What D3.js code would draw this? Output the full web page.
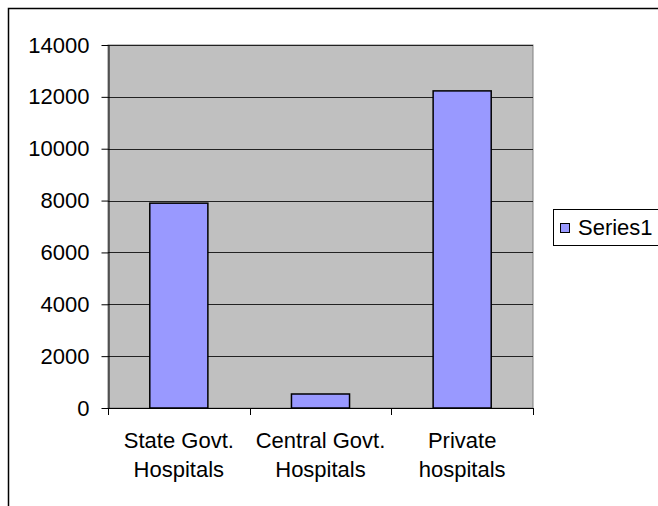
<!DOCTYPE html>
<html>
<head>
<meta charset="utf-8">
<script src="https://cdn.jsdelivr.net/npm/d3@7"></script>
<style>
  body { margin: 0; background: #fff; }
  svg { display: block; font-family: "Liberation Sans", Arial, sans-serif; }
</style>
</head>
<body>
<svg width="658" height="506"></svg>
<script>
const width = 658, height = 506;
const svg = d3.select("svg");

// chart data
const categories = [["State Govt.", "Hospitals"], ["Central Govt.", "Hospitals"], ["Private", "hospitals"]];
const values = [7900, 540, 12230];
const yTicks = [0, 2000, 4000, 6000, 8000, 10000, 12000, 14000];
const seriesName = "Series1";

// plot area
const plotLeft = 108, plotRight = 533, plotTop = 45, plotBottom = 408;

// outer chart frame (cut off at right and bottom in the original)
svg.append("rect")
    .attr("x", 8.5).attr("y", 8.5)
    .attr("width", width + 20).attr("height", height + 20)
    .attr("fill", "#fff")
    .attr("stroke", "#000")
    .attr("stroke-width", 1.5);

const xScale = d3.scaleBand()
    .domain(d3.range(categories.length))
    .range([plotLeft, plotRight])
    .paddingInner(0.59)
    .paddingOuter(0.295);

const yScale = d3.scaleLinear()
    .domain([0, 14000])
    .range([plotBottom, plotTop]);

// grey plot background
svg.append("rect")
    .attr("x", plotLeft).attr("y", plotTop)
    .attr("width", plotRight - plotLeft).attr("height", plotBottom - plotTop)
    .attr("fill", "#c0c0c0")
    .attr("stroke", "#808080")
    .attr("stroke-width", 1);

// horizontal gridlines
svg.selectAll(".grid")
    .data(yTicks.filter(d => d > 0))
    .enter().append("line")
    .attr("class", "grid")
    .attr("x1", plotLeft).attr("x2", plotRight)
    .attr("y1", d => Math.round(yScale(d)) + 0.5)
    .attr("y2", d => Math.round(yScale(d)) + 0.5)
    .attr("stroke", "#222")
    .attr("stroke-width", 1);

// bars
svg.selectAll(".bar")
    .data(values)
    .enter().append("rect")
    .attr("class", "bar")
    .attr("x", (d, i) => xScale(i))
    .attr("y", d => yScale(d))
    .attr("width", xScale.bandwidth())
    .attr("height", d => plotBottom - yScale(d))
    .attr("fill", "#9999ff")
    .attr("stroke", "#000")
    .attr("stroke-width", 1.5);

// y axis
const yAxis = svg.append("g")
    .attr("transform", `translate(${plotLeft + 0.5},0)`)
    .call(d3.axisLeft(yScale).tickValues(yTicks).tickSize(7).tickSizeOuter(0).tickPadding(12).tickFormat(d3.format("d")));
yAxis.select(".domain").attr("stroke", "#000");
yAxis.selectAll(".tick line").attr("stroke", "#000");
yAxis.selectAll(".tick text")
    .style("font-size", "22px")
    .style("font-family", "Liberation Sans, Arial, sans-serif")
    .attr("fill", "#000");

// x axis with boundary ticks
const boundaries = d3.range(categories.length + 1).map(i => plotLeft + i * (plotRight - plotLeft) / categories.length);
svg.append("line")
    .attr("x1", plotLeft).attr("x2", plotRight)
    .attr("y1", plotBottom + 0.5).attr("y2", plotBottom + 0.5)
    .attr("stroke", "#000");
svg.selectAll(".xtick")
    .data(boundaries)
    .enter().append("line")
    .attr("class", "xtick")
    .attr("x1", d => Math.round(d) + 0.5).attr("x2", d => Math.round(d) + 0.5)
    .attr("y1", plotBottom).attr("y2", plotBottom + 7)
    .attr("stroke", "#000");

// category labels, two lines each
const labels = svg.selectAll(".xlabel")
    .data(categories)
    .enter().append("text")
    .attr("class", "xlabel")
    .attr("text-anchor", "middle")
    .style("font-size", "22px")
    .attr("fill", "#000");
labels.each(function(d, i) {
    const cx = xScale(i) + xScale.bandwidth() / 2;
    d3.select(this).selectAll("tspan")
        .data(d)
        .enter().append("tspan")
        .attr("x", cx)
        .attr("y", (t, j) => 448 + j * 29)
        .text(t => t);
});

// legend
const legend = svg.append("g");
legend.append("rect")
    .attr("x", 553.5).attr("y", 209.5)
    .attr("width", 120).attr("height", 36)
    .attr("fill", "#fff")
    .attr("stroke", "#000")
    .attr("stroke-width", 1);
legend.append("rect")
    .attr("x", 560.5).attr("y", 223.5)
    .attr("width", 9).attr("height", 9)
    .attr("fill", "#9999ff")
    .attr("stroke", "#000");
legend.append("text")
    .attr("x", 578).attr("y", 235)
    .style("font-size", "22px")
    .attr("fill", "#000")
    .text(seriesName);
</script>
</body>
</html>
